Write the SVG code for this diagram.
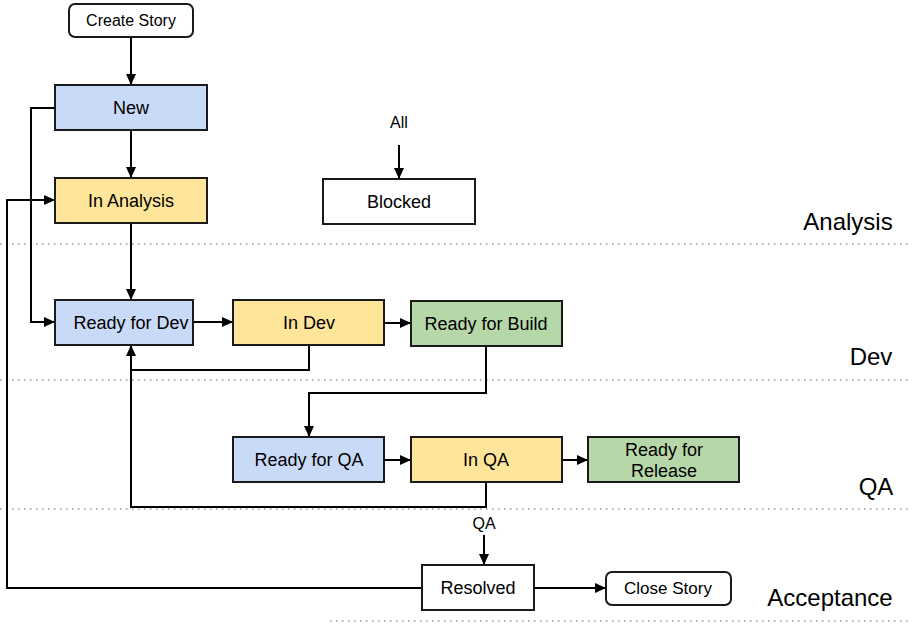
<svg xmlns="http://www.w3.org/2000/svg" width="914" height="627" viewBox="0 0 914 627">
<defs>
<marker id="arr" markerUnits="userSpaceOnUse" markerWidth="12" markerHeight="10" refX="11" refY="5" orient="auto">
<path d="M0,0 L11,5 L0,10 Z" fill="#000"/>
</marker>
<style>
.n{stroke:#1a1a1a;stroke-width:2}
.blue{fill:#c9daf8}.yel{fill:#ffe599}.grn{fill:#b6d7a8}.wht{fill:#fff}
.t{font-family:"Liberation Sans",Arial,sans-serif;font-size:18px;fill:#000;text-anchor:middle}
.small{font-size:16px}
.mid{font-size:17px}
.lane{font-family:"Liberation Sans",Arial,sans-serif;font-size:24px;fill:#000;text-anchor:middle}
.c{fill:none;stroke:#000;stroke-width:2}
.a{marker-end:url(#arr)}
.dot{stroke:#999;stroke-width:1.5;stroke-dasharray:1.5 4.5;fill:none}
</style>
</defs>
<rect width="914" height="627" fill="#fff"/>
<g id="lanes">
<line class="dot" x1="0" y1="244" x2="908" y2="244"/>
<line class="dot" x1="0" y1="380" x2="908" y2="380"/>
<line class="dot" x1="0" y1="509" x2="908" y2="509"/>
<line class="dot" x1="330" y1="621" x2="908" y2="621"/>
<text class="lane" x="848" y="230">Analysis</text>
<text class="lane" x="871" y="365">Dev</text>
<text class="lane" x="876" y="495">QA</text>
<text class="lane" x="830" y="606">Acceptance</text>
</g>
<g id="connectors">
<line class="c a" x1="131" y1="37" x2="131" y2="85"/>
<line class="c a" x1="131" y1="130" x2="131" y2="178"/>
<polyline class="c a" points="55,108 31,108 31,322 55,322"/>
<line class="c a" x1="131" y1="223" x2="131" y2="300"/>
<polyline class="c a" points="422,588 7,588 7,200 55,200"/>
<line class="c a" x1="193" y1="322" x2="233" y2="322"/>
<line class="c a" x1="384" y1="323" x2="411" y2="323"/>
<polyline class="c a" points="309,345 309,370 131,370 131,345"/>
<polyline class="c a" points="486,346 486,393 309,393 309,437"/>
<line class="c a" x1="384" y1="460" x2="411" y2="460"/>
<line class="c a" x1="562" y1="460" x2="588" y2="460"/>
<polyline class="c" points="486,482 486,507 131,507 131,370"/>
<line class="c a" x1="534" y1="588" x2="606" y2="588"/>
<line class="c a" x1="399" y1="145" x2="399" y2="179"/>
<line class="c a" x1="484" y1="535" x2="484" y2="565"/>
<text class="t small" x="399" y="128">All</text>
<text class="t small" x="484" y="529">QA</text>
</g>
<g id="create-story"><rect class="n wht" x="69" y="4" width="124" height="33" rx="6"/><text class="t small" x="131" y="26">Create Story</text></g>
<g id="new"><rect class="n blue" x="55" y="85" width="152" height="45"/><text class="t" x="131" y="114">New</text></g>
<g id="in-analysis"><rect class="n yel" x="55" y="178" width="152" height="45"/><text class="t" x="131" y="207">In Analysis</text></g>
<g id="blocked"><rect class="n wht" x="323" y="179" width="152" height="45"/><text class="t" x="399" y="208">Blocked</text></g>
<g id="ready-for-dev"><rect class="n blue" x="55" y="300" width="138" height="45"/><text class="t" x="131" y="329">Ready for Dev</text></g>
<g id="in-dev"><rect class="n yel" x="233" y="300" width="151" height="45"/><text class="t" x="309" y="329">In Dev</text></g>
<g id="ready-for-build"><rect class="n grn" x="411" y="301" width="151" height="45"/><text class="t" x="486" y="330">Ready for Build</text></g>
<g id="ready-for-qa"><rect class="n blue" x="233" y="437" width="151" height="45"/><text class="t" x="309" y="466">Ready for QA</text></g>
<g id="in-qa"><rect class="n yel" x="411" y="437" width="151" height="45"/><text class="t" x="486" y="466">In QA</text></g>
<g id="ready-for-release"><rect class="n grn" x="588" y="437" width="151" height="45"/><text class="t" x="664" y="456">Ready for</text><text class="t" x="664" y="477">Release</text></g>
<g id="resolved"><rect class="n wht" x="422" y="565" width="112" height="45"/><text class="t" x="478" y="594">Resolved</text></g>
<g id="close-story"><rect class="n wht" x="606" y="572" width="125" height="33" rx="6"/><text class="t mid" x="668" y="594">Close Story</text></g>
</svg>
